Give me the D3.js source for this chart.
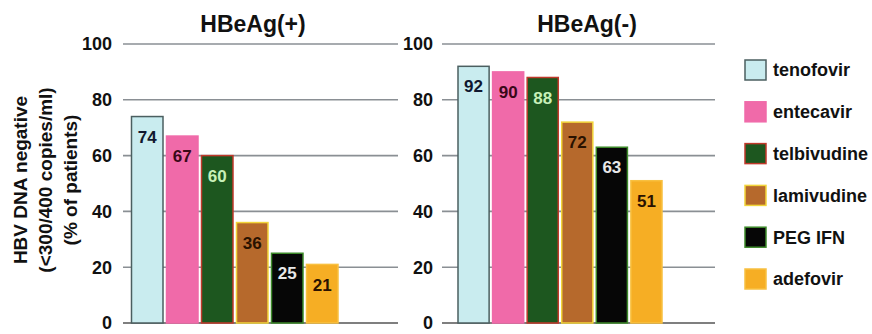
<!DOCTYPE html>
<html><head><meta charset="utf-8">
<script src="https://cdn.jsdelivr.net/npm/d3@7/dist/d3.min.js"></script>
<style>body{margin:0;background:#fff}svg{display:block}text{font-family:"Liberation Sans",Arial,sans-serif;font-weight:bold}</style>
</head><body><svg id="c" width="872" height="334"></svg>
<script>
const drugs = ["tenofovir","entecavir","telbivudine","lamivudine","PEG IFN","adefovir"];
const panels = ["HBeAg(+)","HBeAg(-)"];
const valuesPos = [74,67,60,36,25,21];
const valuesNeg = [92,90,88,72,63,51];
const yTicks = [0,20,40,60,80,100];
const yTitle = ["HBV DNA negative","(<300/400 copies/ml)","(% of patients)"];

const fill = {"tenofovir":"#c9ecef","entecavir":"#f06aa9","telbivudine":"#1d571f","lamivudine":"#b6692c","PEG IFN":"#060606","adefovir":"#f6ae24"};
const stroke = {"tenofovir":"#4b5f60","entecavir":"#f06aa9","telbivudine":"#c0392b","lamivudine":"#f2d53a","PEG IFN":"#3d8a2a","adefovir":"#f8c040"};
const labelColor = {"tenofovir":"#101830","entecavir":"#3a0818","telbivudine":"#c8f0b8","lamivudine":"#2a1200","PEG IFN":"#e8e8e8","adefovir":"#2a1200"};

const svg = d3.select("#c");
const y = d3.scaleLinear().domain([0,100]).range([323,44]);

const layout = [
  {title:panels[0], vals:valuesPos, bars:[131.5,338], grid:[123,398], tickX:112, titleX:253},
  {title:panels[1], vals:valuesNeg, bars:[458,662], grid:[442,715], tickX:433, titleX:587}
];

layout.forEach(p => {
  const g = svg.append("g");
  const x = d3.scaleBand().domain(drugs).range(p.bars).paddingInner(0.1).paddingOuter(0);
  // gridlines
  g.selectAll("line.grid").data(yTicks).join("line")
    .attr("x1",p.grid[0]).attr("x2",p.grid[1])
    .attr("y1",d=>y(d)).attr("y2",d=>y(d))
    .attr("stroke",d=>d===0?"#555":"#8a8f94").attr("stroke-width",1.6);
  // tick labels
  g.selectAll("text.tick").data(yTicks).join("text")
    .attr("x",p.tickX).attr("y",d=>y(d)).attr("dy","0.36em")
    .attr("text-anchor","end").attr("font-size",18).attr("fill","#111")
    .text(d=>d);
  // title
  g.append("text").attr("x",p.titleX).attr("y",32).attr("text-anchor","middle")
    .attr("font-size",23).attr("fill","#111").text(p.title);
  const data = drugs.map((d,i)=>({d, v:p.vals[i]}));
  g.selectAll("rect.bar").data(data).join("rect")
    .attr("x",d=>x(d.d)).attr("width",x.bandwidth())
    .attr("y",d=>y(d.v)).attr("height",d=>y(0)-y(d.v))
    .attr("fill",d=>fill[d.d]).attr("stroke",d=>stroke[d.d]).attr("stroke-width",1.5);
  g.selectAll("text.val").data(data).join("text")
    .attr("x",d=>x(d.d)+x.bandwidth()/2).attr("y",d=>y(d.v)+20).attr("dy","0.36em")
    .attr("text-anchor","middle").attr("font-size",17)
    .attr("fill",d=>labelColor[d.d]).text(d=>d.v);
});

// y-axis title
const yt = svg.append("text").attr("transform","translate(0,180) rotate(-90)")
  .attr("text-anchor","middle").attr("font-size",19).attr("fill","#111");
yTitle.forEach((t,i)=>{
  yt.append("tspan").attr("x",0).attr("y",27+i*25).text(t);
});

// legend
const lg = svg.append("g");
const ly = d3.scalePoint().domain(drugs).range([70,279]);
drugs.forEach(d=>{
  lg.append("rect").attr("x",745).attr("y",ly(d)-10).attr("width",21).attr("height",20)
    .attr("fill",fill[d]).attr("stroke",stroke[d]).attr("stroke-width",1.5);
  lg.append("text").attr("x",773).attr("y",ly(d)).attr("dy","0.36em")
    .attr("font-size",18).attr("fill","#111").text(d);
});
</script></body></html>
